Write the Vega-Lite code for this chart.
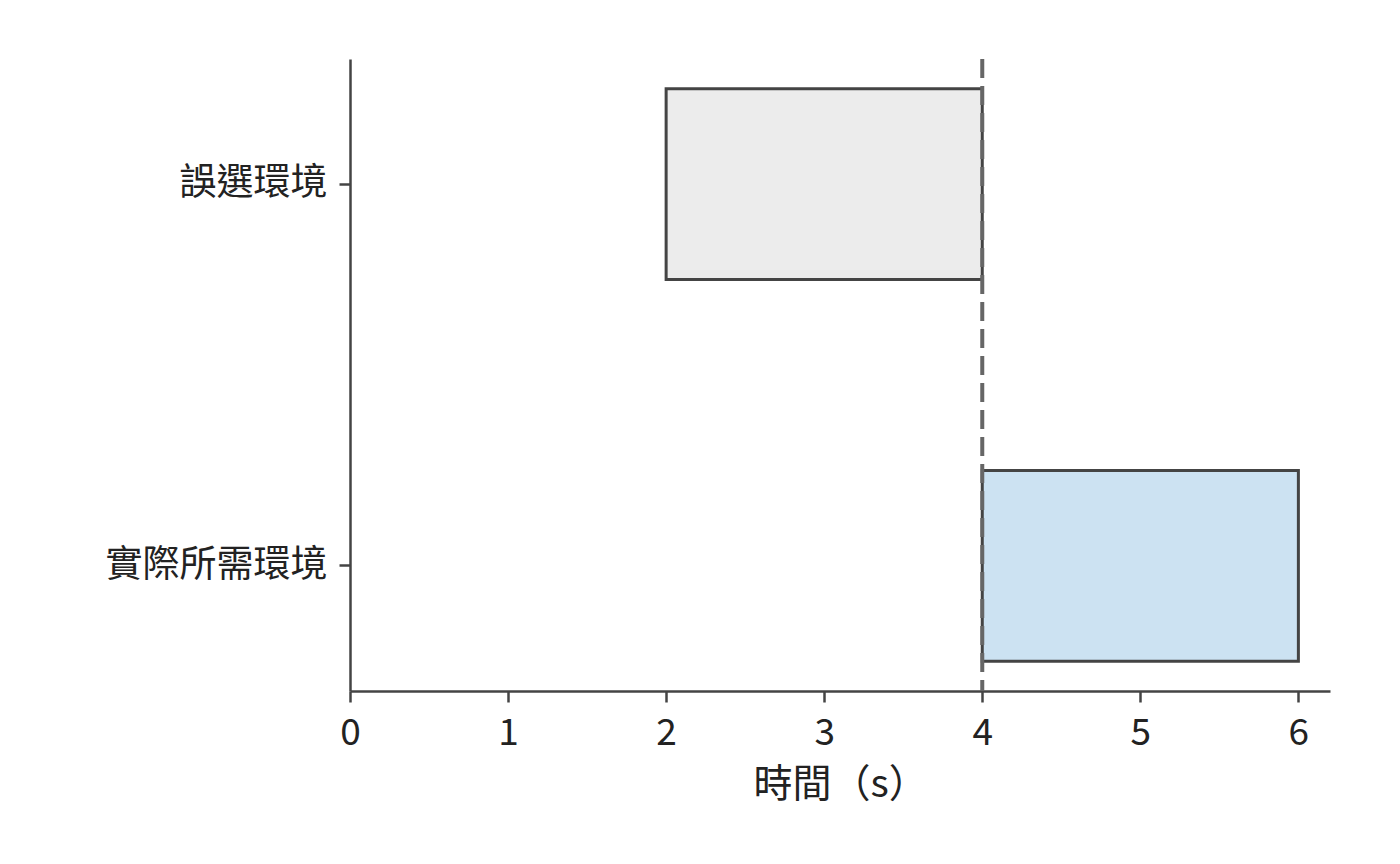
{
  "$schema": "https://vega.github.io/schema/vega-lite/v6.json",
  "autosize": {"type": "none"},
  "padding": {"left": 350, "top": 59, "right": 70, "bottom": 173},
  "width": 980,
  "height": 632,
  "background": "white",
  "config": {
    "view": {"stroke": null},
    "font": "Noto Sans CJK TC",
    "axis": {
      "labelFont": "Noto Sans CJK TC",
      "titleFont": "Noto Sans CJK TC",
      "domainColor": "#444444",
      "domainWidth": 2.5,
      "tickColor": "#444444",
      "tickWidth": 2.5,
      "tickSize": 11,
      "labelColor": "#222222",
      "titleColor": "#222222",
      "labelFontSize": 37,
      "titleFontSize": 39,
      "titleFontWeight": "normal",
      "grid": false
    }
  },
  "datasets": {
    "bars": [
      {"env": "誤選環境", "start": 2, "end": 4, "kind": "wrong"},
      {"env": "實際所需環境", "start": 4, "end": 6, "kind": "actual"}
    ],
    "marker": [{"t": 4}]
  },
  "layer": [
    {
      "data": {"name": "bars"},
      "mark": {"type": "bar", "stroke": "#444444", "strokeWidth": 3},
      "encoding": {
        "y": {
          "field": "env",
          "type": "nominal",
          "sort": ["誤選環境", "實際所需環境"],
          "scale": {"paddingInner": 0.5, "paddingOuter": 0.078},
          "axis": {"title": null, "labelPadding": 12, "labelLimit": 400}
        },
        "x": {
          "field": "start",
          "type": "quantitative",
          "scale": {"domain": [0, 6.2], "nice": false, "zero": false},
          "axis": {"title": "時間（s）", "values": [0, 1, 2, 3, 4, 5, 6], "format": "d", "labelPadding": 13, "titlePadding": 14, "labelFlush": false}
        },
        "x2": {"field": "end"},
        "fill": {
          "field": "kind",
          "type": "nominal",
          "scale": {"domain": ["wrong", "actual"], "range": ["#ececec", "#cce2f2"]},
          "legend": null
        }
      }
    },
    {
      "data": {"name": "marker"},
      "mark": {"type": "rule", "color": "#666666", "strokeWidth": 4, "strokeDash": [19, 8]},
      "encoding": {
        "x": {"field": "t", "type": "quantitative"}
      }
    }
  ]
}
